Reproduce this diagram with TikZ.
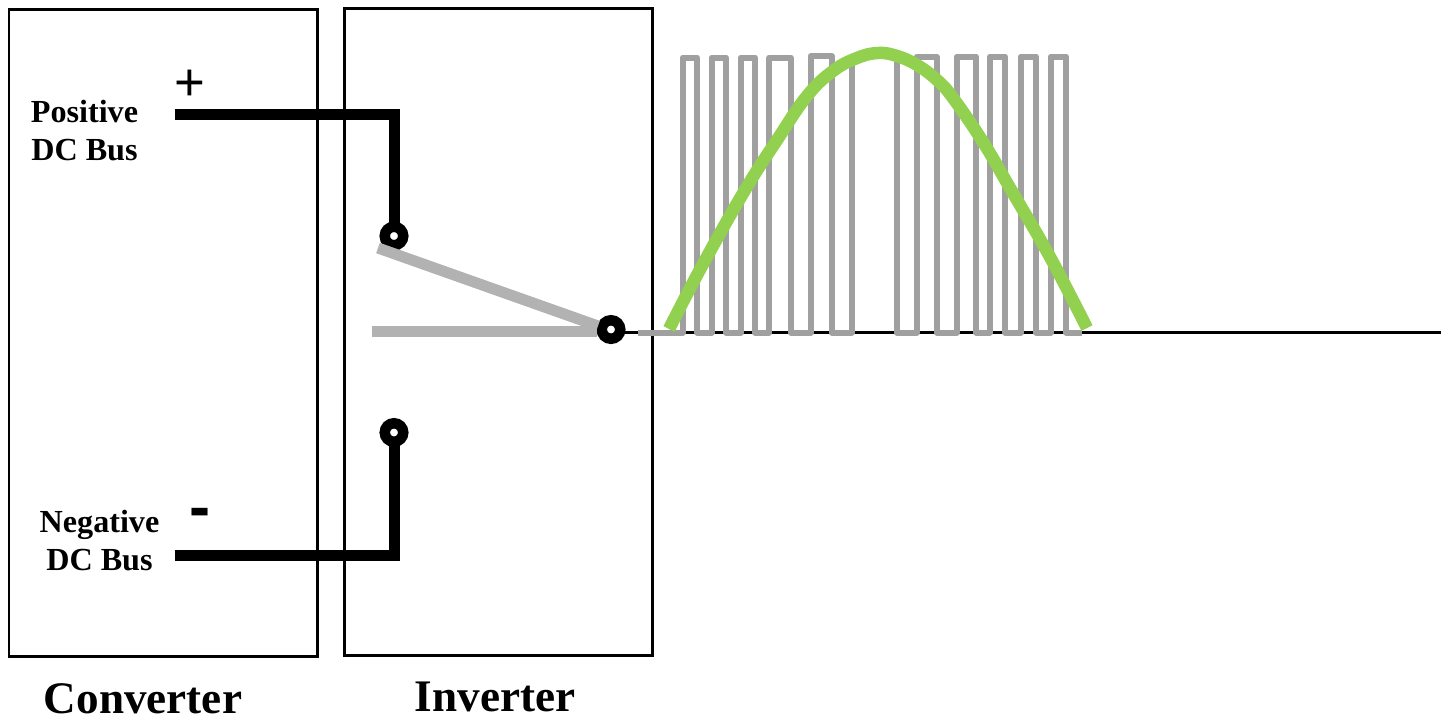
\documentclass[tikz,border=0pt]{standalone}
\usepackage{fontspec}
\setmainfont{Liberation Serif}
\setsansfont{Liberation Sans}
\usepackage{xcolor}
\definecolor{sinegreen}{HTML}{92D050}
\definecolor{pwmgray}{HTML}{A0A0A0}
\definecolor{switchgray}{HTML}{B2B2B2}
\tikzset{
  housing/.style={draw=black, line width=0.06cm},
  wire/.style={black, line width=0.22cm},
  switcharm/.style={switchgray, line width=0.22cm},
  pwm/.style={pwmgray, line width=0.12cm, line join=round},
  terminal/.style={circle, draw=black, fill=white, line width=0.21cm, minimum size=0.37cm, inner sep=0pt, outer sep=0pt},
  buslabel/.style={font=\fontsize{18.3}{22}\selectfont\bfseries, align=center},
  blocklabel/.style={font=\fontsize{25.7}{30}\selectfont\bfseries, anchor=base}
}

\begin{document}
\begin{tikzpicture}[x=0.02cm, y=-0.02cm]
  % 1 unit = 1 pixel of the reference, y runs downwards
  \useasboundingbox (0,0) rectangle (1441,721);

  % Housings
  \node[housing, minimum width=6.18cm, minimum height=12.96cm, inner sep=0pt, outer sep=0pt, anchor=north west] (converter) at (9,9) {};
  \node[housing, minimum width=6.18cm, minimum height=12.96cm, inner sep=0pt, outer sep=0pt, anchor=north west] (inverter) at (344,8) {};
  \node[blocklabel] (convlabel) at (143,713) {Converter};
  \node[blocklabel] (invlabel) at (495,711) {Inverter};

  % Bus labels and signs
  \node[buslabel] (poslabel) at (84.5,130.5) {Positive\\DC Bus};
  \node[buslabel] (neglabel) at (99.5,540.5) {Negative\\DC Bus};
  \node[font=\fontsize{30}{33}\selectfont\sffamily] (plus) at (190,85) {+};
  \node[font=\fontsize{36}{38}\selectfont\sffamily\bfseries] (minus) at (200,518) {-};

  % Terminals
  \foreach \name/\x/\y in {termpos/394/236, termneg/394/432.5, termout/611/329.5} {
    \node[terminal] (\name) at (\x,\y) {};
  }
  \coordinate (buspos) at (174.5,114);
  \coordinate (busneg) at (174.5,555.5);
  \coordinate (lineend) at (1441,332.5);

  % Output line, behind the waveform
  \draw[black, line width=0.06cm] (termout.east |- lineend) -- (lineend);

  % DC bus wires
  \draw[wire] (buspos) -| (termpos);
  \draw[wire] (busneg) -| (termneg);

  % Switch positions
  \coordinate (armpos) at (378,248);
  \coordinate (armoff) at (372,331.5);
  \coordinate (armend) at (598,326);
  \coordinate (armendoff) at (597,331.5);
  \draw[switcharm] (armpos) -- (armend);
  \draw[switcharm] (armoff) -- (armendoff);

  % Switched voltage, left half
  \draw[pwm] (638,332.5) -- (682.7,332.5) -- (682.7,57.5) -- (697.3,57.5) -- (697.3,332.5)
    -- (711.7,332.5) -- (711.7,57.5) -- (726,57.5) -- (726,332.5)
    -- (740.7,332.5) -- (740.7,57.5) -- (755,57.5) -- (755,332.5)
    -- (769.3,332.5) -- (769.3,57.5) -- (790.7,57.5) -- (790.7,332.5)
    -- (810.7,332.5) -- (810.7,56) -- (831.7,56) -- (831.7,332.5)
    -- (851.7,332.5) -- (851.7,62);

  % Switched voltage, right half
  \draw[pwm] (896.7,62) -- (896.7,332.5) -- (916.7,332.5) -- (916.7,56.5) -- (936.7,56.5) -- (936.7,332.5)
    -- (956.7,332.5) -- (956.7,56.5) -- (976,56.5) -- (976,332.5)
    -- (990,332.5) -- (990,56.5) -- (1005.3,56.5) -- (1005.3,332.5)
    -- (1020.7,332.5) -- (1020.7,56.5) -- (1036,56.5) -- (1036,332.5)
    -- (1050.7,332.5) -- (1050.7,56.5) -- (1066,56.5) -- (1066,332.5) -- (1082,332.5);

  % Fundamental
  \draw[sinegreen, line width=0.25cm] plot[smooth, tension=0.7] coordinates {
    (669,329) (703,264) (745,190) (777,140) (807,96) (833,71) (857,58) (878,53)
    (897,56) (917,65) (937,80) (953,98) (983,142) (1010,188) (1050,257) (1087,328)};
\end{tikzpicture}
\end{document}
